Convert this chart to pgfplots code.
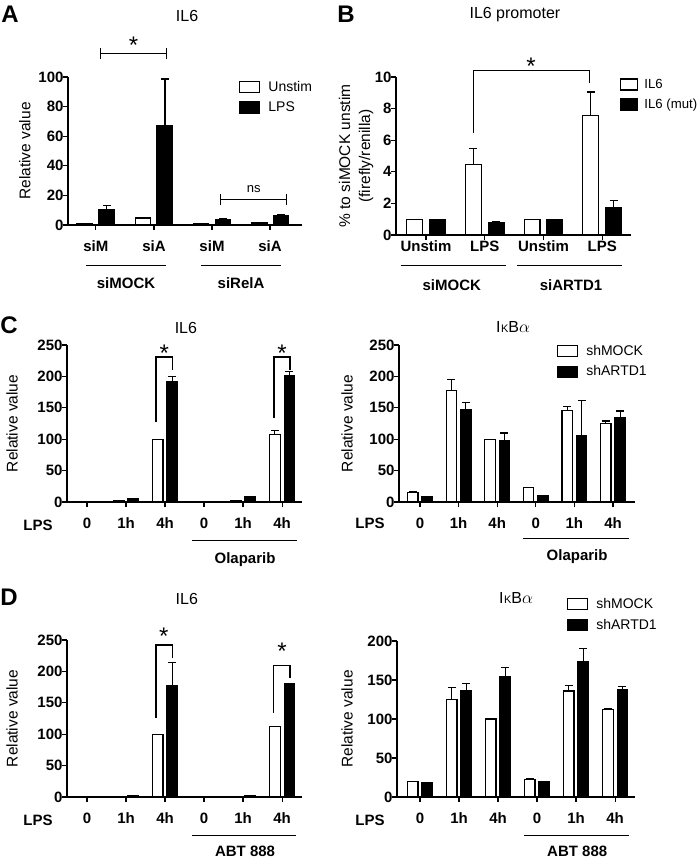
\documentclass[border=0pt]{standalone}
\usepackage{pgfplots}
\pgfplotsset{compat=1.18}
\usepackage{fontspec}
\setmainfont{Liberation Sans}
\pgfplotsset{
  legbox/.initial=20pt,
  panel/.style={
    scale only axis, axis lines*=left,
    axis line style={line width=1.4pt},
    tick align=outside, major tick length=5pt,
    tick style={line width=1.2pt, black},
    enlargelimits=false, clip=false, ymin=0,
    bar width=0.27,
    tick label style={font=\bfseries\fontsize{15}{18}\selectfont},
    /pgf/number format/assume math mode=true,
    label style={font=\fontsize{15.5}{20}\selectfont},
    every axis title/.style={font=\fontsize{16}{19}\selectfont, anchor=center, inner sep=0pt},
    xticklabel style={yshift=-7pt},
    yticklabel style={xshift=4pt},
    legend style={draw=none, fill=none, inner sep=0pt, anchor=north west,
      font=\fontsize{14}{17}\selectfont, row sep=5pt, cells={anchor=west},
      /tikz/every odd column/.append style={column sep=6pt}},
    legend cell align=left,
  },
  wbar/.style={draw=black, fill=white, line width=1.2pt,
    legend image code/.code={\draw[draw=black, fill=white, line width=1.2pt] (0pt,-5.5pt) rectangle (\pgfkeysvalueof{/pgfplots/legbox},5.5pt);},
    error bars/.cd, y dir=plus, y explicit,
    error bar style={line width=1.2pt, black},
    error mark options={rotate=90, mark size=4pt, line width=1.2pt, black}},
  bbar/.style={draw=black, fill=black, line width=1.2pt,
    legend image code/.code={\draw[draw=black, fill=black, line width=1.2pt] (0pt,-5.5pt) rectangle (\pgfkeysvalueof{/pgfplots/legbox},5.5pt);},
    error bars/.cd, y dir=plus, y explicit,
    error bar style={line width=1.2pt, black},
    error mark options={rotate=90, mark size=4pt, line width=1.2pt, black}},
}
\tikzset{
  sig/.style={line width=1.2pt},
  star/.style={font=\fontsize{24}{28}\selectfont, anchor=center, yshift=-4pt, inner sep=0pt},
  grp/.style={font=\bfseries\fontsize{15}{19}\selectfont, anchor=center},
  letter/.style={font=\bfseries\fontsize{24}{28}\selectfont, anchor=center},
}
\begin{document}
\begin{tikzpicture}
\path[use as bounding box] (0pt,0pt) rectangle (700pt,-859pt);

% ---------------- Panel A ----------------
\node[letter] at (10pt,-14pt) {A};
\begin{axis}[panel, ybar=6.3pt, at={(68pt,-225pt)}, anchor=south west, width=234pt, height=148pt,
  xmin=0.52, xmax=4.55, ymax=100, ytick={0,20,...,100},
  xtick={1,2,3,4}, xticklabels={siM,siA,siM,siA},
  ylabel={Relative value}, ylabel style={at={(axis description cs:-0.184,0.5)}, anchor=center},
  title={IL6}, title style={at={(axis description cs:0.509,1.412)}},
  legend style={at={(axis description cs:0.731,0.986)}}]
\addplot[wbar] coordinates {(1,1) +- (0,0) (2,4.7) +- (0,0.5) (3,0.8) +- (0,0) (4,1.3) +- (0,0.3)};
\addplot[bbar] coordinates {(1,10.5) +- (0,2.7) (2,67) +- (0,31.6) (3,3.8) +- (0,0.5) (4,6.5) +- (0,0.3)};
\legend{Unstim, LPS}
\draw[sig] (axis cs:1.086,116) -- (axis cs:2.21,116);
\draw[sig] (axis cs:1.086,112.3) -- (axis cs:1.086,119.7);
\draw[sig] (axis cs:2.21,112.3) -- (axis cs:2.21,119.7);
\node[star] at (axis cs:1.65,124) {*};
\draw[sig] (axis cs:3.14,17) -- (axis cs:4.28,17);
\draw[sig] (axis cs:3.14,13.3) -- (axis cs:3.14,20.7);
\draw[sig] (axis cs:4.28,13.3) -- (axis cs:4.28,20.7);
\node[font=\fontsize{13}{15}\selectfont, anchor=center] at (axis cs:3.72,24.5) {ns};
\draw[line width=1pt] ([yshift=-40pt]axis cs:0.83,0) -- ([yshift=-40pt]axis cs:2.2,0);
\draw[line width=1pt] ([yshift=-40pt]axis cs:2.81,0) -- ([yshift=-40pt]axis cs:4.19,0);
\node[grp] at ([yshift=-58pt]axis cs:1.52,0) {siMOCK};
\node[grp] at ([yshift=-58pt]axis cs:3.5,0) {siRelA};
\end{axis}

% ---------------- Panel B ----------------
\node[letter] at (346pt,-14pt) {B};
\begin{axis}[panel, ybar=7pt, at={(396pt,-235pt)}, anchor=south west, width=235pt, height=158pt,
  xmin=0.49, xmax=4.49, ymax=10, ytick={0,2,...,10},
  xtick={1,2,3,4}, xticklabels={Unstim,LPS,Unstim,LPS},
  xticklabel style={yshift=10pt},
  ylabel={\% to siMOCK unstim\\(firefly/renilla)},
  ylabel style={align=center, at={(axis description cs:-0.17,0.5)}, anchor=center},
  title={IL6 promoter}, title style={at={(axis description cs:0.506,1.392)}},
  legbox=17pt,
  legend style={at={(axis description cs:0.953,1.0)}, font=\fontsize{13.2}{16}\selectfont,
    /tikz/every odd column/.append style={column sep=4pt}}]
\addplot[wbar] coordinates {(1,1) +- (0,0) (2,4.45) +- (0,1.05) (3,1) +- (0,0) (4,7.55) +- (0,1.5)};
\addplot[bbar] coordinates {(1,1) +- (0,0) (2,0.8) +- (0,0.07) (3,1) +- (0,0) (4,1.75) +- (0,0.45)};
\legend{IL6, IL6 (mut)}
\draw[sig] (axis cs:1.81,6.45) -- (axis cs:1.81,10.4) -- (axis cs:3.78,10.4) -- (axis cs:3.78,9.6);
\node[star] at (axis cs:2.79,10.95) {*};
\draw[line width=1pt] ([yshift=-30pt]axis cs:0.57,0) -- ([yshift=-30pt]axis cs:2.36,0);
\draw[line width=1pt] ([yshift=-30pt]axis cs:2.55,0) -- ([yshift=-30pt]axis cs:4.34,0);
\node[grp] at ([yshift=-50pt]axis cs:1.44,0) {siMOCK};
\node[grp] at ([yshift=-50pt]axis cs:3.47,0) {siARTD1};
\end{axis}

% ---------------- Panel C left ----------------
\node[letter] at (9pt,-325pt) {C};
\begin{axis}[panel, ybar=4pt, at={(67pt,-502pt)}, anchor=south west, width=235pt, height=157pt,
  xmin=0.487, xmax=6.51, ymax=250, ytick={0,50,...,250},
  xtick={1,...,6}, xticklabels={0,1h,4h,0,1h,4h},
  ylabel={Relative value}, ylabel style={at={(axis description cs:-0.234,0.5)}, anchor=center},
  title={IL6}, title style={at={(axis description cs:0.506,1.108)}}]
\addplot[wbar] coordinates {(1,0) +- (0,0) (2,2.5) +- (0,0) (3,100) +- (0,0) (4,0) +- (0,0) (5,2) +- (0,0) (6,107) +- (0,7)};
\addplot[bbar] coordinates {(1,0) +- (0,0) (2,5.5) +- (0,0) (3,192) +- (0,8) (4,0) +- (0,0) (5,8) +- (0,1) (6,202) +- (0,6)};
\draw[sig] (axis cs:2.77,127) -- (axis cs:2.77,231) -- (axis cs:3.19,231) -- (axis cs:3.19,210);
\node[star] at (axis cs:2.98,243) {*};
\draw[sig] (axis cs:5.79,134) -- (axis cs:5.79,231) -- (axis cs:6.2,231) -- (axis cs:6.2,210);
\node[star] at (axis cs:6.0,243) {*};
\node[grp] at ([xshift=-29pt,yshift=-23pt]axis cs:0.487,0) {LPS};
\draw[line width=1pt] ([yshift=-38pt]axis cs:3.69,0) -- ([yshift=-38pt]axis cs:6.38,0);
\node[grp] at ([yshift=-58pt]axis cs:5.05,0) {Olaparib};
\end{axis}

% ---------------- Panel C right ----------------
\begin{axis}[panel, ybar=4pt, at={(399pt,-502pt)}, anchor=south west, width=236pt, height=157pt,
  xmin=0.456, xmax=6.57, ymax=250, ytick={0,50,...,250},
  xtick={1,...,6}, xticklabels={0,1h,4h,0,1h,4h},
  ylabel={Relative value}, ylabel style={at={(axis description cs:-0.22,0.5)}, anchor=center},
  title={I\kern0.5pt{\fontsize{11}{13}\selectfont K}B$\alpha$}, title style={at={(axis description cs:0.483,1.115)}},
  legend style={at={(axis description cs:0.669,1.013)}}]
\addplot[wbar] coordinates {(1,15) +- (0,1) (2,177) +- (0,18) (3,100) +- (0,0) (4,23) +- (0,0) (5,146) +- (0,6) (6,125) +- (0,4)};
\addplot[bbar] coordinates {(1,8) +- (0,0) (2,147) +- (0,11) (3,98) +- (0,12) (4,10) +- (0,0) (5,105) +- (0,56) (6,135) +- (0,10)};
\legend{shMOCK, shARTD1}
\node[grp] at ([xshift=-29pt,yshift=-21pt]axis cs:0.456,0) {LPS};
\draw[line width=1pt] ([yshift=-36pt]axis cs:3.67,0) -- ([yshift=-36pt]axis cs:6.41,0);
\node[grp] at ([yshift=-55pt]axis cs:5.07,0) {Olaparib};
\end{axis}

% ---------------- Panel D left ----------------
\node[letter] at (9pt,-597pt) {D};
\begin{axis}[panel, ybar=4pt, at={(67pt,-797pt)}, anchor=south west, width=235pt, height=157pt,
  xmin=0.487, xmax=6.51, ymax=250, ytick={0,50,...,250},
  xtick={1,...,6}, xticklabels={0,1h,4h,0,1h,4h},
  ylabel={Relative value}, ylabel style={at={(axis description cs:-0.234,0.5)}, anchor=center},
  title={IL6}, title style={at={(axis description cs:0.51,1.261)}}]
\addplot[wbar] coordinates {(1,0) +- (0,0) (2,1) +- (0,0) (3,100) +- (0,0) (4,0) +- (0,0) (5,1) +- (0,0) (6,112) +- (0,0)};
\addplot[bbar] coordinates {(1,0) +- (0,0) (2,2) +- (0,0) (3,177) +- (0,37) (4,0) +- (0,0) (5,2) +- (0,0) (6,181) +- (0,0)};
\draw[sig] (axis cs:2.77,126) -- (axis cs:2.77,242) -- (axis cs:3.19,242) -- (axis cs:3.19,221);
\node[star] at (axis cs:2.97,262) {*};
\draw[sig] (axis cs:5.77,134) -- (axis cs:5.77,210) -- (axis cs:6.2,210) -- (axis cs:6.2,190);
\node[star] at (axis cs:6.0,239) {*};
\node[grp] at ([xshift=-29pt,yshift=-23pt]axis cs:0.487,0) {LPS};
\draw[line width=1pt] ([yshift=-38pt]axis cs:3.69,0) -- ([yshift=-38pt]axis cs:6.36,0);
\node[grp] at ([yshift=-54pt]axis cs:5.05,0) {ABT 888};
\end{axis}

% ---------------- Panel D right ----------------
\begin{axis}[panel, ybar=4pt, at={(397pt,-797pt)}, anchor=south west, width=238pt, height=156pt,
  xmin=0.41, xmax=6.51, ymax=200, ytick={0,50,...,200},
  xtick={1,...,6}, xticklabels={0,1h,4h,0,1h,4h},
  ylabel={Relative value}, ylabel style={at={(axis description cs:-0.21,0.5)}, anchor=center},
  title={I\kern0.5pt{\fontsize{11}{13}\selectfont K}B$\alpha$}, title style={at={(axis description cs:0.5,1.276)}},
  legend style={at={(axis description cs:0.714,1.288)}}]
\addplot[wbar] coordinates {(1,20) +- (0,0) (2,125) +- (0,15) (3,100) +- (0,0) (4,22) +- (0,1.4) (5,136) +- (0,7) (6,112) +- (0,1)};
\addplot[bbar] coordinates {(1,18) +- (0,0) (2,137) +- (0,8.5) (3,154) +- (0,12) (4,20) +- (0,0) (5,173) +- (0,17) (6,138) +- (0,4)};
\legend{shMOCK, shARTD1}
\node[grp] at ([xshift=-27pt,yshift=-23pt]axis cs:0.41,0) {LPS};
\draw[line width=1pt] ([yshift=-38pt]axis cs:3.67,0) -- ([yshift=-38pt]axis cs:6.36,0);
\node[grp] at ([yshift=-54pt]axis cs:5.03,0) {ABT 888};
\end{axis}
\end{tikzpicture}
\end{document}
